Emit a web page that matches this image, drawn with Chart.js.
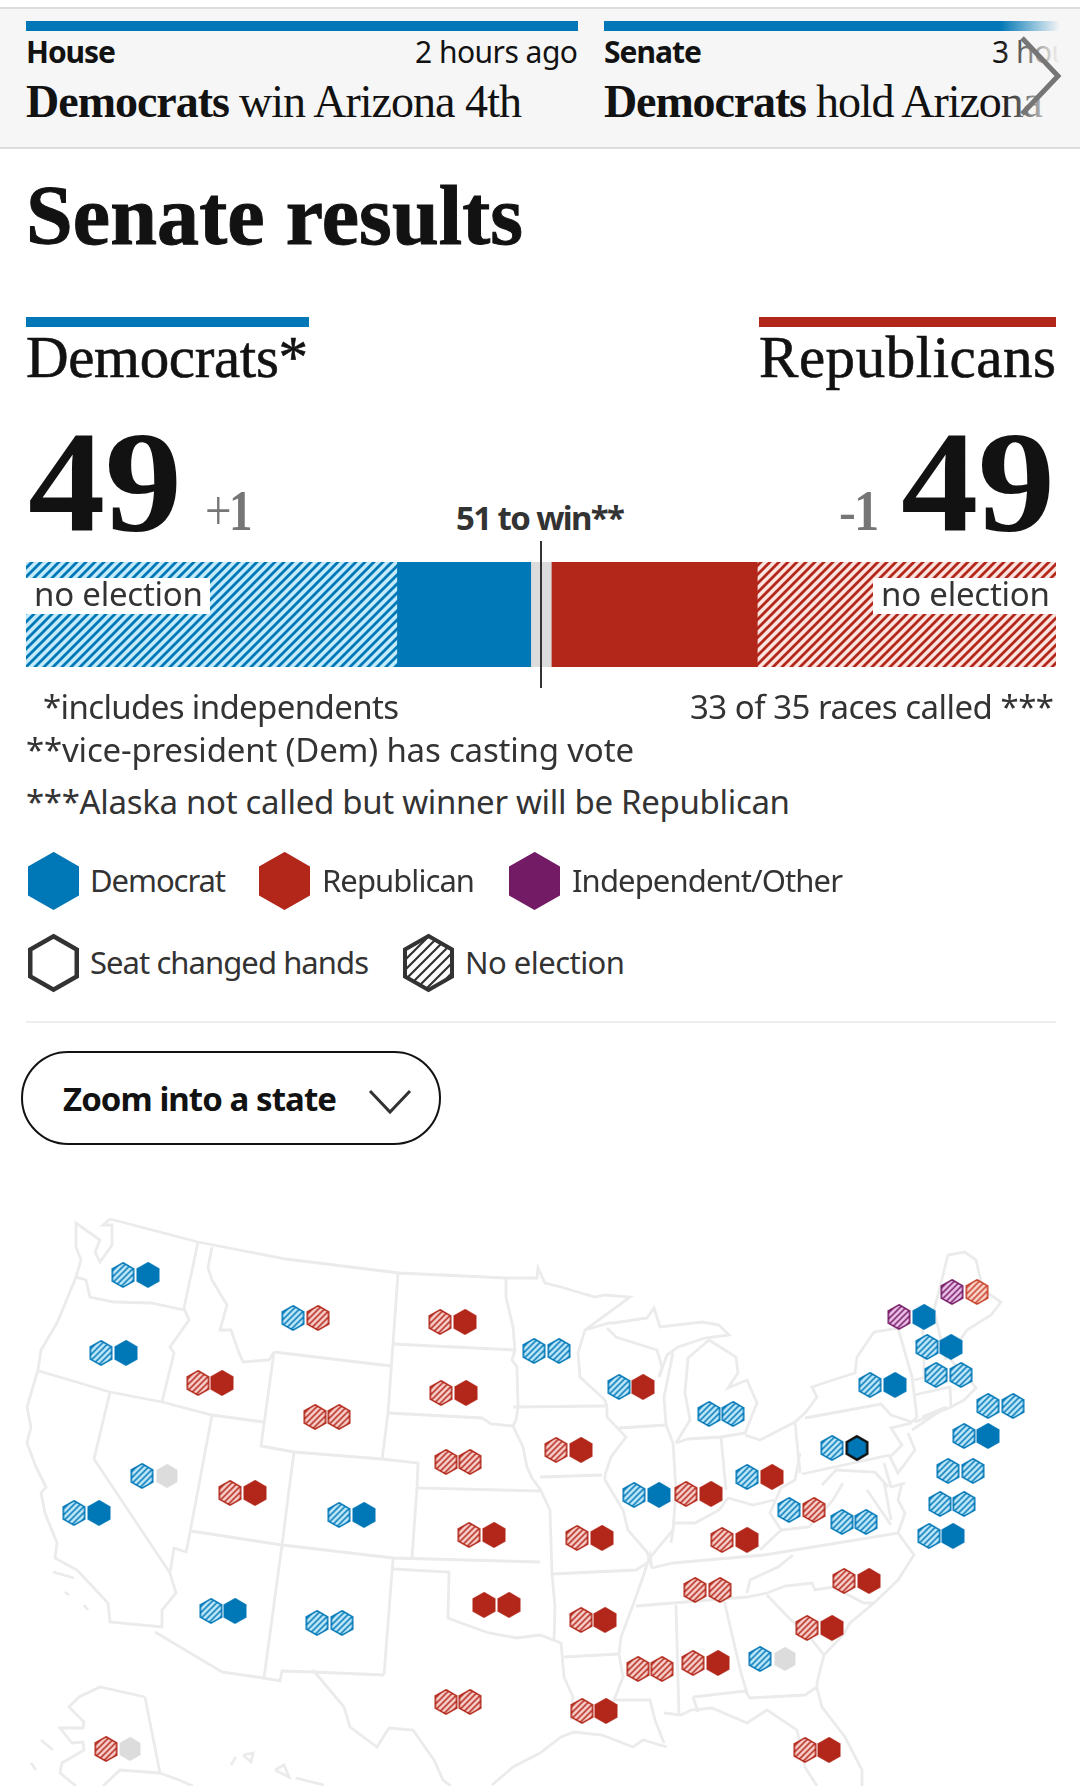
<!DOCTYPE html>
<html>
<head>
<meta charset="utf-8">
<title>Senate results</title>
<script src="https://cdn.jsdelivr.net/npm/chart.js@4"></script>
<style>
html, body { margin: 0; background: #fff; }
#page { position: relative; width: 1080px; height: 1786px; overflow: hidden; color: #333; }
#page > * { position: absolute; }
.t { white-space: nowrap; transform-origin: 0 0; }
.sans { font-family: "Noto Sans", sans-serif; font-size: 33px; }
.bold { font-weight: 700; }
.serif { font-family: "Liberation Serif", serif; color: #121212; }
</style>
</head>
<body>
<div id="page">
  <div style="left:0;top:7px;width:1080px;height:2px;background:#dcdcdc"></div>
  <div style="left:0;top:9px;width:1080px;height:138px;background:#f6f6f6"></div>
  <div style="left:0;top:147px;width:1080px;height:2px;background:#dcdcdc"></div>
  <div style="left:26px;top:21px;width:552px;height:10px;background:#0077b6"></div>
  <div style="left:604px;top:21px;width:456px;height:10px;background:#0077b6"></div>
  <div style="left:26px;top:317px;width:283px;height:10px;background:#0077b6"></div>
  <div style="left:759px;top:317px;width:297px;height:10px;background:#b2271a"></div>
  <div style="left:26px;top:1021px;width:1030px;height:2px;background:#ededed"></div>
  <div style="left:21px;top:1051px;width:416px;height:90px;border:2px solid #121212;border-radius:47px"></div>
  <svg style="left:366px;top:1086px" width="48" height="30"><polyline points="4,5 24,26 44,5" fill="none" stroke="#333" stroke-width="3"/></svg>
  <canvas id="barChart" style="left:26px;top:541px"></canvas>
  <canvas id="mapChart" style="left:0;top:1180px"></canvas>
</div>
<script>
// 上院の議席
const segmentNames = ['Democrats, no election', 'Democrats, elected', 'Not called', 'Republicans, elected', 'Republicans, no election'];
const segmentSeats = [36, 13, 2, 20, 29];
const majorityLine = 50;

// 州ごとの六角形（地図の座標はスクリーンショットから読み取り）
const states = ['WA','MT','ND','OR','ID','SD','WY','NE','NV','MN','WI','MI','IA','OH','PA','NY','VT','ME','NH','MA','CT','NJ','DC','IL','IN','WV','VA','MD','DE','MO','KY','TN','NC','AR','SC','GA','MS','AL','LA','FL','CA','UT','CO','KS','AZ','NM','OK','TX','AK'];
const firstX = [123,293,440,101,198,441,315,446,142,534,619,709,556,747,832,870,899,952,927,936,988,964,948,634,686,789,842,940,929,577,722,695,844,581,807,760,638,693,582,805,74,230,339,469,211,317,484,446,106];
const secondX = [148,318,465,126,222,466,339,470,167,559,643,733,581,772,857,895,924,977,951,961,1013,988,973,659,711,814,866,964,953,602,747,720,869,605,832,785,662,718,606,829,99,255,364,494,235,342,509,470,130];
const seatY = [1275,1318,1322,1353,1383,1393,1417,1462,1476,1351,1387,1414,1450,1477,1448,1385,1317,1292,1347,1375,1406,1436,1471,1495,1494,1510,1522,1504,1536,1538,1540,1590,1581,1620,1628,1659,1669,1663,1711,1750,1513,1493,1515,1535,1611,1623,1605,1702,1749];
const firstSeat = ['dh','dh','rh','dh','rh','rh','rh','rh','dh','dh','dh','dh','rh','dh','dh','dh','ih','ih','dh','dh','dh','dh','dh','dh','rh','dh','dh','dh','dh','rh','rh','rh','rh','rh','rh','dh','rh','rh','rh','rh','dh','rh','dh','rh','dh','dh','r','rh','rh'];
const secondSeat = ['d','rh','r','d','r','r','rh','rh','x','dh','r','dh','r','r','dc','d','d','mh','d','dh','dh','d','dh','d','r','rh','dh','dh','d','r','r','rh','r','r','r','x','rh','r','r','r','d','r','d','r','d','dh','r','rh','x'];

// 州境（x, y の折れ線）
const stateLines = [
  [[110,1219],[198,1242],[286,1259],[399,1273],[506,1278],[537,1278],[538,1268],[545,1283],[561,1287],[581,1293],[595,1297],[605,1295],[630,1297],[585,1330],[578,1353],[580,1377],[605,1400],[607,1407],[607,1417],[626,1437],[611,1457],[605,1475],[605,1480],[623,1510],[628,1530],[647,1552],[652,1568],[650,1555],[643,1577],[633,1605],[621,1637],[619,1654],[623,1677],[614,1700],[650,1700],[655,1720],[664,1743]],
  [[506,1278],[506,1297],[513,1327],[515,1350],[512,1360],[517,1367],[518,1407],[516,1420],[513,1426],[523,1447],[527,1467],[532,1478],[540,1489],[550,1510],[552,1574],[555,1607],[554,1640]],
  [[513,1407],[605,1406]],
  [[393,1344],[515,1350]],
  [[388,1413],[482,1418],[491,1424],[513,1426]],
  [[398,1273],[393,1344],[388,1413],[382,1460]],
  [[274,1352],[391,1366]],
  [[274,1352],[261,1446],[294,1452],[382,1459],[418,1463],[417,1488],[540,1491]],
  [[212,1247],[208,1268],[212,1280],[227,1305],[220,1330],[231,1330],[238,1350],[243,1362],[269,1360],[274,1352]],
  [[198,1242],[184,1308],[189,1320],[170,1347],[174,1353],[162,1402]],
  [[184,1310],[151,1303],[114,1302],[90,1297],[86,1280],[76,1277],[81,1260],[76,1247],[76,1223],[100,1240],[95,1252],[100,1262],[112,1245],[112,1225],[103,1225],[110,1219]],
  [[76,1277],[57,1323],[41,1350],[38,1370],[27,1407],[31,1427],[27,1443],[36,1467],[46,1487],[41,1493],[45,1513],[57,1543],[55,1558],[77,1570],[93,1587],[108,1603],[110,1622],[162,1627],[162,1610],[176,1593],[170,1573],[94,1459],[110,1392]],
  [[39,1371],[110,1392],[162,1402],[212,1415],[263,1422]],
  [[212,1415],[198,1490],[188,1543],[186,1552],[174,1548],[170,1573]],
  [[294,1452],[289,1490],[282,1545],[264,1678]],
  [[191,1531],[282,1545],[393,1558],[540,1562]],
  [[417,1488],[412,1557]],
  [[393,1559],[384,1675]],
  [[393,1569],[449,1572],[448,1618],[461,1623],[489,1633],[517,1638],[540,1635],[561,1643],[564,1677],[573,1697],[571,1720]],
  [[155,1632],[222,1672],[263,1678],[280,1681],[282,1671],[313,1672],[384,1675]],
  [[313,1670],[344,1707],[350,1727],[377,1747],[389,1728],[413,1730],[434,1760],[443,1780],[451,1786]],
  [[492,1785],[513,1767],[540,1753],[561,1737],[574,1732],[602,1735],[633,1747],[643,1740],[667,1747]],
  [[552,1574],[636,1570],[647,1563]],
  [[564,1657],[619,1654]],
  [[636,1606],[747,1597],[767,1593],[785,1586],[812,1583],[815,1590],[833,1587],[864,1603],[874,1603]],
  [[652,1568],[673,1563],[764,1555],[898,1533],[914,1555],[898,1580],[874,1603],[850,1623],[843,1635],[824,1655],[817,1683],[817,1688],[822,1707],[845,1737],[862,1770],[862,1786]],
  [[747,1593],[750,1580],[778,1567],[793,1555]],
  [[767,1595],[788,1617],[812,1640],[824,1655]],
  [[664,1713],[681,1715],[691,1710],[712,1708],[747,1723],[767,1710],[797,1730],[805,1767],[817,1786]],
  [[693,1697],[745,1691],[750,1698],[805,1695],[817,1687]],
  [[676,1605],[678,1680],[679,1715]],
  [[724,1600],[741,1673],[747,1693]],
  [[693,1697],[698,1712]],
  [[540,1477],[602,1475]],
  [[619,1428],[666,1425]],
  [[607,1328],[616,1337],[657,1350],[662,1367],[659,1377]],
  [[585,1330],[609,1323],[614,1323],[647,1318],[654,1308],[660,1327],[702,1322],[719,1325],[729,1335],[705,1338],[678,1347],[667,1355],[659,1377]],
  [[666,1425],[664,1397],[673,1353]],
  [[666,1425],[673,1443],[676,1490],[673,1530],[648,1560]],
  [[676,1443],[688,1439],[721,1437],[745,1433],[757,1403],[747,1380],[728,1388],[738,1373],[736,1357],[709,1340]],
  [[676,1443],[690,1420],[685,1393],[688,1358],[709,1340]],
  [[721,1437],[726,1490]],
  [[745,1435],[760,1440],[795,1422],[805,1413],[817,1397],[812,1387],[833,1380],[855,1373],[857,1357],[874,1332],[898,1328],[912,1377],[917,1417],[912,1422]],
  [[795,1422],[800,1473]],
  [[805,1418],[881,1404],[891,1415],[912,1422]],
  [[802,1474],[890,1455]],
  [[800,1453],[795,1480],[781,1488],[770,1513],[781,1530],[760,1550]],
  [[671,1543],[674,1523],[695,1523],[719,1510],[728,1498],[753,1505],[774,1500]],
  [[781,1530],[809,1527],[833,1500],[843,1483]],
  [[912,1423],[891,1428],[902,1445],[890,1457],[898,1473],[915,1450],[908,1433]],
  [[912,1430],[946,1407],[922,1417]],
  [[914,1395],[950,1387],[951,1407],[915,1422]],
  [[914,1380],[936,1375],[970,1380],[976,1388],[964,1400],[951,1407]],
  [[941,1283],[948,1255],[965,1252],[976,1260],[983,1290],[1001,1302],[991,1315],[967,1330],[951,1353],[951,1360],[970,1380]],
  [[941,1283],[934,1310],[941,1340],[946,1360]],
  [[922,1320],[924,1350],[924,1377]],
  [[898,1533],[905,1513],[898,1500],[902,1483]],
  [[867,1490],[891,1525]],
  [[884,1482],[891,1520]],
  [[884,1463],[891,1487],[905,1483]],
  [[822,1485],[836,1470],[875,1472],[888,1487]],
  [[145,1697],[160,1773],[179,1780],[193,1786]],
  [[145,1697],[100,1687],[79,1697],[69,1707],[84,1722],[83,1728],[60,1728],[72,1743],[83,1742],[84,1750],[62,1763],[60,1773],[76,1786]],
  [[103,1786],[120,1770],[160,1773]],
  [[41,1740],[53,1750]],
  [[31,1763],[36,1770]],
  [[243,1755],[253,1753],[251,1762],[243,1755]],
  [[231,1765],[236,1757]],
  [[275,1770],[284,1765],[289,1777],[275,1770]],
  [[296,1778],[324,1785]],
  [[53,1572],[74,1578]],
  [[84,1605],[88,1610]],
  [[65,1592],[69,1595]]
];

const hexStyles = {
  d:  { fill: '#0077b6', line: '#0077b6' },
  r:  { fill: '#b2271a', line: '#b2271a' },
  i:  { fill: '#741b66', line: '#741b66' },
  x:  { fill: '#dcdcdc', line: '#dcdcdc', w: 21, h: 24 },
  dc: { fill: '#0077b6', line: '#121212', lw: 2.5 },
  dh: { fill: '#bde6f8', line: '#0077b6', hatch: '#0077b6' },
  rh: { fill: '#f6cdc8', line: '#b2271a', hatch: '#b2271a' },
  mh: { fill: '#f9d3c8', line: '#c8402a', hatch: '#c8402a' },
  ih: { fill: '#ecbfe8', line: '#741b66', hatch: '#741b66' },
  legendOutline: { fill: '#fff', line: '#333', lw: 4.5 },
  legendHatch: { fill: '#fff', line: '#333', hatch: '#333', lw: 4, period: 10, hatchWidth: 2.2 }
};

// 斜線のパターン
function hatchPattern(ctx, back, stripe, period, width) {
  const tile = document.createElement('canvas');
  tile.width = tile.height = period;
  const c = tile.getContext('2d');
  c.fillStyle = back;
  c.fillRect(0, 0, period, period);
  c.strokeStyle = stripe;
  c.lineWidth = width;
  c.beginPath();
  c.moveTo(-1, period + 1); c.lineTo(period + 1, -1);
  c.moveTo(-1, 1); c.lineTo(1, -1);
  c.moveTo(period - 1, period + 1); c.lineTo(period + 1, period - 1);
  c.stroke();
  return ctx.createPattern(tile, 'repeat');
}

// 六角形をcanvasに描く
function hexCanvas(kind, width, height) {
  const s = hexStyles[kind];
  const w = width || s.w || 23, h = height || s.h || 26;
  const lw = s.lw || 1.6;
  const cv = document.createElement('canvas');
  cv.width = w + 2; cv.height = h + 2;
  const c = cv.getContext('2d');
  const m = 1 + lw / 2, iw = w - lw, ih = h - lw;
  c.beginPath();
  c.moveTo(m + iw / 2, m);
  c.lineTo(m + iw, m + ih / 4);
  c.lineTo(m + iw, m + ih * 3 / 4);
  c.lineTo(m + iw / 2, m + ih);
  c.lineTo(m, m + ih * 3 / 4);
  c.lineTo(m, m + ih / 4);
  c.closePath();
  c.fillStyle = s.hatch ? hatchPattern(c, s.fill, s.hatch, s.period || 6, s.hatchWidth || 1.5) : s.fill;
  c.fill();
  c.strokeStyle = s.line;
  c.lineWidth = lw;
  c.lineJoin = 'miter';
  c.stroke();
  return cv;
}

// ベースラインと幅を指定してテキストを置く
const page = document.getElementById('page');
function label(html, x, baseline, width, cls, css) {
  const el = document.createElement('div');
  el.className = 't ' + cls;
  el.style.cssText = 'left:' + x + 'px;top:0;' + (css || '');
  el.innerHTML = html;
  page.appendChild(el);
  const chars = el.textContent.length;
  el.style.letterSpacing = ((width - el.getBoundingClientRect().width) / (chars - 1)) + 'px';
  const strut = document.createElement('span');
  strut.style.cssText = 'display:inline-block;width:0;height:0';
  el.appendChild(strut);
  el.style.top = (baseline - strut.getBoundingClientRect().bottom) + 'px';
  strut.remove();
  return el;
}

// 議席バー
const barCanvas = document.getElementById('barChart');
barCanvas.width = 1030; barCanvas.height = 147;
const barCtx = barCanvas.getContext('2d');
const segmentFills = [
  hatchPattern(barCtx, '#c3ebfb', '#0077b6', 9, 2.8),
  '#0077b6',
  '#dcdcdc',
  '#b2271a',
  hatchPattern(barCtx, '#fde3df', '#b2271a', 9, 2.8)
];
const majorityMark = {
  id: 'majorityMark',
  afterDraw(chart) {
    const x = chart.scales.x.getPixelForValue(majorityLine);
    const c = chart.ctx;
    c.save();
    c.strokeStyle = '#333';
    c.lineWidth = 2;
    c.beginPath();
    c.moveTo(x, 0);
    c.lineTo(x, chart.height);
    c.stroke();
    c.restore();
  }
};
new Chart(barCanvas, {
  type: 'bar',
  data: {
    labels: ['Senate'],
    datasets: segmentNames.map((name, i) => ({
      label: name,
      data: [segmentSeats[i]],
      backgroundColor: segmentFills[i],
      borderWidth: 0,
      barPercentage: 1,
      categoryPercentage: 1
    }))
  },
  options: {
    indexAxis: 'y',
    responsive: false,
    animation: false,
    layout: { padding: { top: 21, bottom: 21 } },
    plugins: { legend: { display: false }, tooltip: { enabled: false } },
    scales: {
      x: { stacked: true, min: 0, max: 100, display: false },
      y: { stacked: true, display: false }
    }
  },
  plugins: [majorityMark]
});

// 地図
const mapCanvas = document.getElementById('mapChart');
mapCanvas.width = 1080; mapCanvas.height = 606;
const lineSets = stateLines.map(line => ({
  type: 'scatter',
  data: line.map(p => ({ x: p[0], y: p[1] })),
  showLine: true,
  borderColor: '#ebebeb',
  borderWidth: 2.8,
  pointRadius: 0,
  order: 2
}));
const kinds = ['d', 'r', 'x', 'dc', 'dh', 'rh', 'mh', 'ih'];
const seatSets = kinds.map(kind => {
  const points = [];
  states.forEach((st, i) => {
    if (firstSeat[i] === kind) points.push({ x: firstX[i], y: seatY[i] });
    if (secondSeat[i] === kind) points.push({ x: secondX[i], y: seatY[i] });
  });
  return {
    type: 'scatter',
    label: kind,
    data: points,
    pointStyle: hexCanvas(kind),
    pointRadius: 13,
    order: 1
  };
});
new Chart(mapCanvas, {
  type: 'scatter',
  data: { datasets: lineSets.concat(seatSets) },
  options: {
    responsive: false,
    animation: false,
    clip: false,
    layout: { padding: 0, autoPadding: false },
    plugins: { legend: { display: false }, tooltip: { enabled: false } },
    scales: {
      x: { type: 'linear', min: 0, max: 1080, display: false },
      y: { type: 'linear', min: 1180, max: 1786, reverse: true, display: false }
    }
  }
});

// ヘッダー
label('House', 26, 63, 90, 'sans bold', 'font-size:30px;color:#121212');
label('2 hours ago', 415, 63, 163, 'sans', 'font-size:30px;color:#121212');
label('Senate', 604, 63, 98, 'sans bold', 'font-size:30px;color:#121212');
label('3 hours ago', 992, 63, 163, 'sans', 'font-size:30px;color:#121212');
label('Democrats', 26, 117, 204, 'serif bold', 'font-size:46px');
label('win Arizona 4th', 239, 117, 283, 'serif', 'font-size:46px');
label('Democrats', 604, 117, 203, 'serif bold', 'font-size:46px');
label('hold Arizona', 816, 117, 227, 'serif', 'font-size:46px');

const fade = document.createElement('div');
fade.style.cssText = 'left:1000px;top:9px;width:80px;height:138px;background:linear-gradient(to right, rgba(246,246,246,0) 0, #f6f6f6 60px)';
page.appendChild(fade);
const arrow = document.createElementNS('http://www.w3.org/2000/svg', 'svg');
arrow.setAttribute('width', 50); arrow.setAttribute('height', 90);
arrow.style.cssText = 'left:1018px;top:32px';
arrow.innerHTML = '<polyline points="4,6 40,44 4,82" fill="none" stroke="#767676" stroke-width="5"/>';
page.appendChild(arrow);

// 見出し
label('Senate results', 26, 244, 497, 'serif bold', 'font-size:84px;-webkit-text-stroke:1px #121212');
label('Democrats*', 26, 377, 282, 'serif', 'font-size:59px;-webkit-text-stroke:.6px #121212');
label('Republicans', 759, 377, 297, 'serif', 'font-size:59px;-webkit-text-stroke:.6px #121212');
label('49', 28, 531, 154, 'serif bold', 'font-size:143px;transform:scaleX(1.08)');
label('49', 901, 531, 154, 'serif bold', 'font-size:143px;transform:scaleX(1.08)');
label('<span style="font-weight:400">+</span>1', 205, 530, 47, 'serif bold', 'font-size:56px;color:#767676;transform:scaleX(.84)');
label('<span style="font-weight:400">-</span>1', 839, 530, 40, 'serif bold', 'font-size:56px;color:#767676;transform:scaleX(.9)');
label('51 to win**', 456, 530, 169, 'sans bold');

// バーのラベル
[[26, 210], [873, 1056]].forEach(b => {
  const box = document.createElement('div');
  box.style.cssText = 'left:' + b[0] + 'px;top:578px;width:' + (b[1] - b[0]) + 'px;height:36px;background:#fff';
  page.appendChild(box);
});
label('no election', 34, 606, 169, 'sans');
label('no election', 881, 606, 169, 'sans');

// 注記
label('*includes independents', 43, 719, 356, 'sans');
label('33 of 35 races called ***', 690, 719, 364, 'sans');
label('**vice-president (Dem) has casting vote', 26, 762, 608, 'sans');
label('***Alaska not called but winner will be Republican', 26, 814, 764, 'sans');

// 凡例
[['d', 53, 881], ['r', 284, 881], ['i', 534, 881], ['legendOutline', 53, 963], ['legendHatch', 428, 963]].forEach(k => {
  const cv = hexCanvas(k[0], 51, 58);
  cv.style.left = (k[1] - cv.width / 2) + 'px';
  cv.style.top = (k[2] - cv.height / 2) + 'px';
  page.appendChild(cv);
});
label('Democrat', 90, 892, 136, 'sans', 'font-size:31px');
label('Republican', 322, 892, 153, 'sans', 'font-size:31px');
label('Independent/Other', 572, 892, 271, 'sans', 'font-size:31px');
label('Seat changed hands', 90, 974, 279, 'sans', 'font-size:31px');
label('No election', 465, 974, 160, 'sans', 'font-size:31px');
label('Zoom into a state', 63, 1111, 274, 'sans bold', 'color:#121212');
</script>
</body>
</html>
